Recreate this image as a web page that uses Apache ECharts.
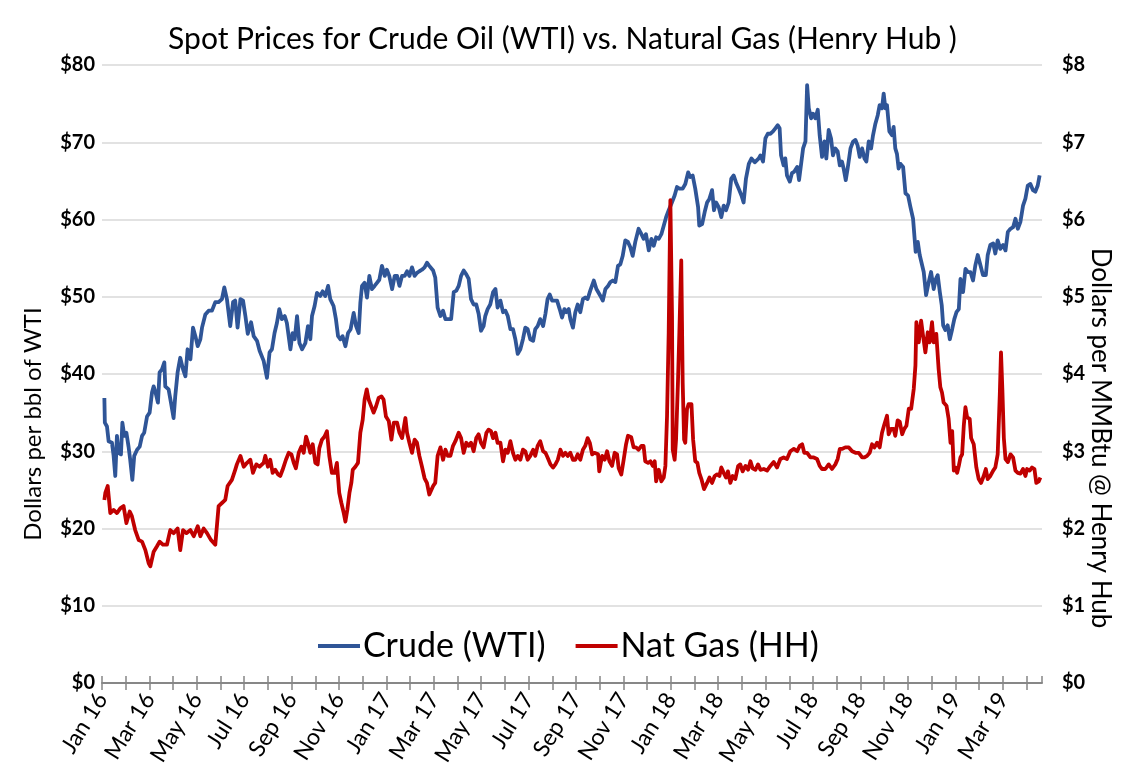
<!DOCTYPE html>
<html>
<head>
<meta charset="utf-8">
<script src="https://cdn.jsdelivr.net/npm/echarts@6/dist/echarts.min.js"></script>
<style>
html,body{margin:0;padding:0;background:#fff;}
#chart{width:1125px;height:783px;}
</style>
</head>
<body>
<div id="chart"></div>
<script>
// x = months elapsed since Jan 1 2016 (fractional), y = price
const monthNames = ['Jan','Feb','Mar','Apr','May','Jun','Jul','Aug','Sep','Oct','Nov','Dec'];
const titleText = 'Spot Prices for Crude Oil (WTI) vs. Natural Gas (Henry Hub )';
const leftAxisName = 'Dollars per bbl of WTI';
const rightAxisName = 'Dollars per MMBtu @ Henry Hub';
const seriesNames = ['Crude (WTI)', 'Nat Gas (HH)'];

// Crude oil WTI spot, $/bbl  [months since Jan 2016, price]
const crudeWTI = [
[0.10,36.9],[0.12,33.7],[0.21,33.2],[0.28,31.3],[0.42,31.1],[0.49,29.4],[0.56,26.8],[0.63,32],[0.70,29.8],[0.80,29.6],
[0.86,33.7],[0.94,32],[1.03,32.4],[1.12,30.6],[1.19,28.9],[1.28,26.3],[1.36,29.4],[1.48,30.2],[1.59,30.6],[1.69,32],
[1.78,32.4],[1.90,34.5],[2.01,35],[2.11,37.6],[2.18,38.4],[2.26,37.6],[2.36,36.3],[2.43,40.2],[2.53,40.6],[2.63,41.5],
[2.67,38.4],[2.81,38],[2.91,36.3],[3.02,34.3],[3.09,37.1],[3.19,40.2],[3.30,42.1],[3.42,40.6],[3.52,39.7],[3.61,43.2],
[3.73,41.9],[3.84,46],[3.94,44.9],[4.04,43.6],[4.15,44.5],[4.22,46],[4.36,47.7],[4.50,48.2],[4.64,48.2],[4.78,49.3],
[4.92,49.3],[5.06,49.7],[5.16,51.2],[5.27,49.7],[5.41,46.2],[5.53,49.3],[5.62,49.5],[5.72,46],[5.84,49.7],[5.95,49.5],
[6.05,47.5],[6.15,45.2],[6.29,46.7],[6.40,44.9],[6.54,44.3],[6.65,43],[6.82,41.7],[6.96,39.5],[7.07,42.8],
[7.17,43.2],[7.28,45.3],[7.38,46.6],[7.48,48.4],[7.59,47.1],[7.71,47.5],[7.80,46.6],[7.95,43.2],[8.04,45.3],[8.13,44.5],
[8.23,47.5],[8.33,44],[8.44,43.2],[8.58,44],[8.69,46.2],[8.79,44.5],[8.86,47.5],[8.97,48.8],[9.07,50.5],[9.21,50.1],
[9.31,50.7],[9.42,50.1],[9.54,51.4],[9.63,49.7],[9.77,48.8],[9.87,47.1],[9.96,44.9],[10.06,44.5],[10.15,44.9],[10.27,43.6],
[10.38,45.3],[10.49,45.8],[10.62,47.9],[10.72,46.2],[10.83,45.3],[10.90,49.2],[10.97,51.4],[11.08,51.8],[11.18,49.9],[11.28,52.7],
[11.39,51],[11.50,51.4],[11.60,51.8],[11.70,52.2],[11.81,54],[11.93,52.7],[12.02,53.5],[12.12,52.7],[12.24,51],[12.35,52.7],
[12.45,52.7],[12.55,51.4],[12.66,52.7],[12.77,52.7],[12.87,53.3],[12.97,52.7],[13.08,53.8],[13.19,52.7],[13.29,53.1],[13.39,53.3],
[13.50,53.5],[13.61,53.8],[13.71,54.4],[13.81,54],[13.85,54],[13.97,53.4],[14.06,52.5],[14.16,48.6],[14.28,47.5],[14.39,48.2],
[14.49,47.1],[14.63,47.1],[14.73,47.1],[14.84,50.6],[14.95,50.8],[15.05,51.4],[15.15,52.7],[15.26,53.4],[15.37,52.9],[15.47,52.3],
[15.57,49.7],[15.68,49],[15.79,49],[15.89,47.8],[15.99,45.6],[16.10,46.2],[16.17,47.5],[16.27,48.4],[16.38,49],[16.50,50.6],
[16.60,51],[16.69,48.6],[16.81,49.5],[16.92,48],[17.02,48.2],[17.12,47.5],[17.23,45.8],[17.34,45.8],[17.44,44.5],[17.54,42.6],
[17.65,43.2],[17.76,44.5],[17.86,46],[17.96,45.8],[18.07,44.5],[18.19,44.3],[18.28,45.8],[18.38,46.2],[18.49,47.1],[18.61,46.2],
[18.71,47.8],[18.80,49.7],[18.89,50.3],[18.99,49.5],[19.09,49.5],[19.20,49.5],[19.31,48.4],[19.41,47.3],[19.51,48.4],[19.59,48],
[19.69,48.4],[19.76,47.1],[19.87,46],[19.97,48],[20.07,49],[20.18,48],[20.29,49.7],[20.39,49.9],[20.49,49.7],[20.60,50.8],
[20.75,52.1],[20.86,51],[21.03,50.1],[21.13,49.5],[21.24,51],[21.35,51.4],[21.45,51.9],[21.55,52.1],[21.66,51.9],[21.77,54],
[21.87,54.2],[21.97,55.3],[22.08,57.3],[22.19,57.1],[22.29,56.4],[22.39,55.3],[22.50,57.1],[22.64,58.8],[22.76,58.1],[22.85,57.5],
[22.95,58.1],[23.07,56],[23.18,57.5],[23.28,56.6],[23.38,57.7],[23.49,57.5],[23.60,58.1],[23.70,59.2],[23.80,60.3],[23.91,61.2],
[24.02,62],[24.16,63.1],[24.26,64.2],[24.36,64],[24.50,64],[24.61,64.6],[24.73,66.1],[24.82,65.5],[24.92,65.7],[25.03,64],
[25.15,61.6],[25.20,59.2],[25.32,59.4],[25.43,61],[25.53,62.2],[25.63,62.7],[25.74,63.8],[25.82,61.2],[25.91,62.2],[26.02,61.6],
[26.13,60.3],[26.23,61.8],[26.33,61.2],[26.44,62.2],[26.55,65.3],[26.65,65.7],[26.75,64.8],[26.86,64],[26.98,63.1],[27.07,62.2],
[27.17,65.3],[27.29,67.2],[27.40,67.9],[27.54,67.4],[27.71,67.9],[27.78,68.3],[27.89,67.5],[27.99,70.5],[28.09,71.1],[28.20,71.1],
[28.31,71.4],[28.41,71.8],[28.51,72.2],[28.59,71.8],[28.65,68.3],[28.76,67],[28.83,67.9],[28.90,65.7],[29.02,64.9],[29.11,66],
[29.21,66.2],[29.33,66.8],[29.41,65.1],[29.49,65.3],[29.58,69.2],[29.68,70.1],[29.75,77.4],[29.82,74.4],[29.92,73.1],[30.00,73.7],
[30.10,73.1],[30.20,74.2],[30.28,70.9],[30.38,68.1],[30.48,70.1],[30.56,67.9],[30.66,71.6],[30.76,70.5],[30.84,68.3],[30.94,69.2],
[31.04,68.8],[31.13,67],[31.22,67.5],[31.29,66.6],[31.38,65.1],[31.46,66.6],[31.58,69.2],[31.69,70.1],[31.79,70.3],[31.88,69.6],
[31.97,68.1],[32.07,69.2],[32.17,67.9],[32.25,67.5],[32.35,70.1],[32.45,69.2],[32.53,70.9],[32.63,72.4],[32.73,73.5],[32.81,74.8],
[32.91,74.4],[32.98,76.3],[33.05,74.4],[33.12,74.8],[33.22,71.4],[33.33,70.9],[33.40,72],[33.47,69.2],[33.54,68.5],[33.61,66.6],
[33.69,67.2],[33.80,66.8],[33.90,63.4],[34.01,63.1],[34.11,61.6],[34.22,60.1],[34.29,60.1],[34.33,55.8],[34.42,57.1],[34.50,55.4],
[34.57,54.5],[34.67,53.2],[34.77,50.2],[34.88,51.9],[34.98,53.2],[35.09,51],[35.18,52.3],[35.26,52.8],[35.35,50.6],[35.43,48.9],
[35.49,46.3],[35.58,45.7],[35.68,46.3],[35.77,44.5],[35.87,45.8],[35.96,47.1],[36.05,48],[36.15,48.4],[36.22,52.3],[36.33,50.6],
[36.43,53.6],[36.53,53.2],[36.64,53.2],[36.75,52.1],[36.85,54.1],[36.95,55.4],[37.06,54.1],[37.17,52.8],[37.29,52.8],[37.37,55.4],
[37.48,56.7],[37.60,56.9],[37.69,55.6],[37.79,57.3],[37.90,56.2],[38.02,56.7],[38.12,56],[38.22,58.4],[38.33,58.8],[38.44,59],
[38.54,60.1],[38.64,58.8],[38.75,59.7],[38.86,61.8],[38.96,62.7],[39.06,64.4],[39.17,64.6],[39.28,63.8],[39.38,63.6],[39.48,64.4],
[39.56,65.7]
];

// Natural gas Henry Hub spot, $/MMBtu  [months since Jan 2016, price]
const natGasHH = [
[0.10,2.37],[0.14,2.46],[0.24,2.55],[0.35,2.2],[0.49,2.24],[0.63,2.2],[0.77,2.26],[0.91,2.29],[1.03,2.07],[1.17,2.22],
[1.26,2.16],[1.40,1.98],[1.55,1.85],[1.69,1.83],[1.83,1.72],[1.97,1.55],[2.04,1.51],[2.18,1.7],[2.32,1.77],[2.43,1.83],
[2.57,1.79],[2.74,1.79],[2.88,1.98],[3.02,1.94],[3.19,2.0],[3.30,1.72],[3.42,1.98],[3.56,1.94],[3.73,1.98],[3.87,1.9],
[4.04,2.03],[4.15,1.9],[4.29,2.0],[4.43,1.94],[4.60,1.85],[4.78,1.79],[4.92,2.29],[5.06,2.33],[5.20,2.37],[5.30,2.55],
[5.48,2.63],[5.62,2.76],[5.69,2.83],[5.84,2.94],[5.98,2.8],[6.12,2.85],[6.26,2.89],[6.37,2.72],[6.51,2.83],[6.65,2.8],
[6.82,2.85],[6.89,2.94],[7.00,2.8],[7.10,2.89],[7.20,2.72],[7.31,2.76],[7.43,2.7],[7.52,2.68],[7.62,2.76],[7.76,2.89],
[7.88,2.98],[7.99,2.96],[8.09,2.85],[8.18,2.78],[8.30,2.98],[8.41,3.06],[8.51,2.98],[8.61,3.19],[8.69,3.11],[8.79,2.98],
[8.89,3.09],[9.00,2.85],[9.10,2.83],[9.17,3.04],[9.28,3.15],[9.39,3.19],[9.49,3.26],[9.59,2.94],[9.70,2.72],[9.82,2.72],
[9.91,2.85],[10.01,2.46],[10.10,2.33],[10.20,2.2],[10.27,2.09],[10.35,2.24],[10.44,2.46],[10.52,2.59],[10.58,2.76],[10.69,2.8],
[10.80,2.85],[10.90,3.24],[11.00,3.41],[11.08,3.67],[11.17,3.8],[11.25,3.67],[11.36,3.58],[11.46,3.5],[11.56,3.58],[11.67,3.69],
[11.79,3.71],[11.88,3.67],[11.98,3.45],[12.10,3.39],[12.21,3.15],[12.31,3.37],[12.45,3.37],[12.55,3.24],[12.66,3.17],[12.80,3.43],
[12.87,3.24],[12.97,3.11],[13.08,2.98],[13.19,3.15],[13.29,3.11],[13.39,2.94],[13.50,2.8],[13.61,2.65],[13.71,2.59],[13.81,2.44],
[13.97,2.55],[14.06,2.59],[14.16,2.94],[14.28,3.05],[14.39,2.89],[14.49,3.02],[14.59,2.94],[14.70,2.94],[14.81,3.07],[14.91,3.13],
[15.05,3.24],[15.15,3.17],[15.26,2.98],[15.37,3.11],[15.47,3.07],[15.57,3.11],[15.68,3.0],[15.79,3.17],[15.89,3.22],[15.99,3.11],
[16.10,3.05],[16.22,3.24],[16.31,3.28],[16.41,3.26],[16.50,3.17],[16.60,3.24],[16.69,3.11],[16.81,3.11],[16.92,2.87],[17.02,3.02],
[17.12,2.98],[17.23,3.13],[17.34,2.98],[17.44,2.89],[17.54,2.94],[17.65,2.89],[17.76,3.02],[17.86,3.0],[17.96,2.89],[18.07,2.94],
[18.19,3.02],[18.28,2.94],[18.38,3.07],[18.49,3.13],[18.61,3.0],[18.71,2.98],[18.80,2.92],[18.92,2.83],[19.03,2.79],[19.13,2.83],
[19.23,2.89],[19.34,3.02],[19.45,2.94],[19.55,2.98],[19.65,2.94],[19.76,2.98],[19.87,2.89],[19.97,2.89],[20.07,2.96],[20.18,2.89],
[20.29,3.02],[20.39,3.07],[20.49,3.17],[20.58,3.11],[20.68,2.96],[20.77,2.98],[20.93,2.96],[20.98,2.74],[21.10,2.94],[21.21,2.89],
[21.31,3.0],[21.41,2.87],[21.52,2.81],[21.63,2.98],[21.73,2.96],[21.80,2.78],[21.91,2.7],[22.01,2.89],[22.11,3.09],[22.19,3.2],
[22.33,3.18],[22.43,3.05],[22.53,3.05],[22.64,3.02],[22.76,3.07],[22.85,3.07],[22.92,2.87],[23.04,2.85],[23.14,2.87],[23.24,2.81],
[23.32,2.87],[23.38,2.61],[23.49,2.76],[23.60,2.61],[23.70,2.66],[23.77,2.81],[23.84,3.46],[23.91,4.54],[23.98,6.25],[24.05,4.75],
[24.08,3.02],[24.16,2.89],[24.22,3.15],[24.30,3.89],[24.36,4.54],[24.44,5.47],[24.50,3.89],[24.56,3.15],[24.61,3.11],[24.68,3.54],
[24.75,3.61],[24.87,3.61],[24.94,3.15],[25.03,2.87],[25.12,2.85],[25.20,2.72],[25.29,2.64],[25.40,2.51],[25.53,2.59],[25.63,2.66],
[25.74,2.59],[25.85,2.68],[25.95,2.7],[26.05,2.68],[26.13,2.79],[26.23,2.72],[26.33,2.66],[26.41,2.74],[26.51,2.59],[26.61,2.68],
[26.72,2.64],[26.84,2.81],[26.93,2.83],[27.03,2.74],[27.15,2.81],[27.26,2.76],[27.36,2.87],[27.45,2.78],[27.57,2.76],[27.68,2.83],
[27.78,2.76],[27.92,2.77],[28.06,2.75],[28.20,2.81],[28.34,2.86],[28.48,2.79],[28.62,2.9],[28.76,2.92],[28.90,2.9],[29.04,3.0],
[29.19,3.03],[29.33,3.0],[29.44,3.07],[29.54,3.09],[29.63,2.98],[29.75,2.98],[29.89,2.92],[30.03,2.92],[30.17,2.9],[30.28,2.81],
[30.38,2.77],[30.52,2.77],[30.66,2.83],[30.80,2.77],[30.94,2.83],[31.04,2.9],[31.13,3.03],[31.22,3.03],[31.36,3.05],[31.51,3.05],
[31.65,3.0],[31.79,2.98],[31.93,2.98],[32.07,2.92],[32.17,2.92],[32.28,2.94],[32.39,2.98],[32.49,3.09],[32.59,3.05],[32.70,3.11],
[32.81,3.05],[32.91,3.24],[33.01,3.35],[33.12,3.46],[33.19,3.22],[33.29,3.29],[33.40,3.29],[33.47,3.2],[33.57,3.4],[33.66,3.38],
[33.76,3.22],[33.85,3.29],[33.94,3.33],[34.04,3.55],[34.14,3.55],[34.25,3.81],[34.32,4.11],[34.36,4.67],[34.46,4.41],[34.56,4.69],
[34.64,4.5],[34.74,4.28],[34.84,4.54],[34.92,4.41],[35.02,4.67],[35.09,4.41],[35.20,4.52],[35.30,4.06],[35.37,3.83],[35.44,3.76],
[35.51,3.63],[35.63,3.59],[35.72,3.42],[35.80,3.11],[35.87,3.26],[35.94,2.75],[36.01,2.79],[36.08,2.72],[36.15,2.81],[36.22,2.92],
[36.29,2.96],[36.36,3.33],[36.43,3.57],[36.50,3.44],[36.61,3.42],[36.67,3.17],[36.78,3.09],[36.89,2.79],[36.99,2.64],[37.09,2.59],
[37.20,2.68],[37.29,2.77],[37.37,2.64],[37.48,2.68],[37.60,2.75],[37.69,2.79],[37.79,2.96],[37.88,3.74],[37.93,4.28],[37.99,3.78],
[38.05,3.17],[38.12,2.9],[38.22,2.86],[38.33,2.96],[38.44,2.92],[38.54,2.75],[38.64,2.72],[38.75,2.71],[38.86,2.77],[38.96,2.68],
[39.03,2.77],[39.14,2.75],[39.24,2.79],[39.34,2.77],[39.42,2.59],[39.52,2.61],[39.59,2.66]
];

const leftTicks = {min: 0, max: 80, interval: 10};
const rightTicks = {min: 0, max: 8, interval: 1};
const xRange = {min: 0, max: 39.66, interval: 1};

const FONT = 'Lato, "Noto Sans", sans-serif';
const chart = echarts.init(document.getElementById('chart'), null, {renderer: 'canvas'});

function monthLabel(v) {
  if (Math.abs(v - Math.round(v)) > 1e-6) return '';
  const m = Math.round(v);
  if (m % 2 !== 0) return '';
  return monthNames[m % 12] + ' ' + (16 + Math.floor(m / 12));
}

const option = {
  backgroundColor: '#ffffff',
  animation: false,
  textStyle: {fontFamily: FONT},
  title: {
    text: titleText,
    left: 'center',
    top: 19,
    textStyle: {fontFamily: FONT, fontSize: 30, fontWeight: 'normal', color: '#000'}
  },
  legend: {
    data: seriesNames,
    left: 313,
    top: 624,
    icon: 'rect',
    itemWidth: 42,
    itemHeight: 4,
    itemGap: 30,
    textStyle: {fontFamily: FONT, fontSize: 34, color: '#000', padding: [0, 0, 0, -2]}
  },
  grid: {left: 102, right: 83, top: 65, bottom: 100, containLabel: false},
  xAxis: [
    {
      type: 'value', min: xRange.min, max: xRange.max, interval: xRange.interval,
      position: 'bottom',
      axisLine: {show: true, lineStyle: {color: '#878787', width: 2}},
      axisTick: {show: true, length: 7, lineStyle: {color: '#878787', width: 1.5}},
      axisLabel: {
        formatter: monthLabel, rotate: 58, margin: 12,
        fontFamily: FONT, fontSize: 23, color: '#000',
        showMaxLabel: false
      },
      splitLine: {show: false}
    },
    {
      type: 'value', min: xRange.min, max: xRange.max, interval: xRange.interval,
      position: 'top', offset: -618,
      axisLine: {show: false},
      axisTick: {show: true, inside: false, length: 7, lineStyle: {color: '#878787', width: 1.5}},
      axisLabel: {show: false},
      splitLine: {show: false}
    }
  ],
  yAxis: [
    {
      type: 'value', position: 'left',
      min: leftTicks.min, max: leftTicks.max, interval: leftTicks.interval,
      axisLine: {show: false}, axisTick: {show: false},
      axisLabel: {formatter: v => '$' + v, fontFamily: FONT, fontSize: 20, fontWeight: 'bold', color: '#000', margin: 7},
      splitLine: {show: true, lineStyle: {color: '#D9D9D9', width: 1.5}}
    },
    {
      type: 'value', position: 'right',
      min: rightTicks.min, max: rightTicks.max, interval: rightTicks.interval,
      axisLine: {show: false}, axisTick: {show: false},
      axisLabel: {formatter: v => '$' + v, fontFamily: FONT, fontSize: 20, fontWeight: 'bold', color: '#000', margin: 20},
      splitLine: {show: false}
    }
  ],
  graphic: [
    {
      type: 'text', x: 33, y: 424, rotation: Math.PI / 2,
      style: {text: leftAxisName, fontFamily: FONT, fontSize: 24, fill: '#000', textAlign: 'center', textVerticalAlign: 'middle'}
    },
    {
      type: 'text', x: 1100, y: 438, rotation: -Math.PI / 2,
      style: {text: rightAxisName, fontFamily: FONT, fontSize: 26, fill: '#000', textAlign: 'center', textVerticalAlign: 'middle'}
    }
  ],
  series: [
    {
      name: seriesNames[0], type: 'line', xAxisIndex: 0, yAxisIndex: 0,
      data: crudeWTI, symbol: 'none', showSymbol: false,
      lineStyle: {color: '#2F5597', width: 3.8, join: 'round'},
      itemStyle: {color: '#2F5597'}
    },
    {
      name: seriesNames[1], type: 'line', xAxisIndex: 0, yAxisIndex: 1,
      data: natGasHH, symbol: 'none', showSymbol: false,
      lineStyle: {color: '#C00000', width: 3.8, join: 'round'},
      itemStyle: {color: '#C00000'}
    }
  ]
};
chart.setOption(option);
</script>
</body>
</html>
